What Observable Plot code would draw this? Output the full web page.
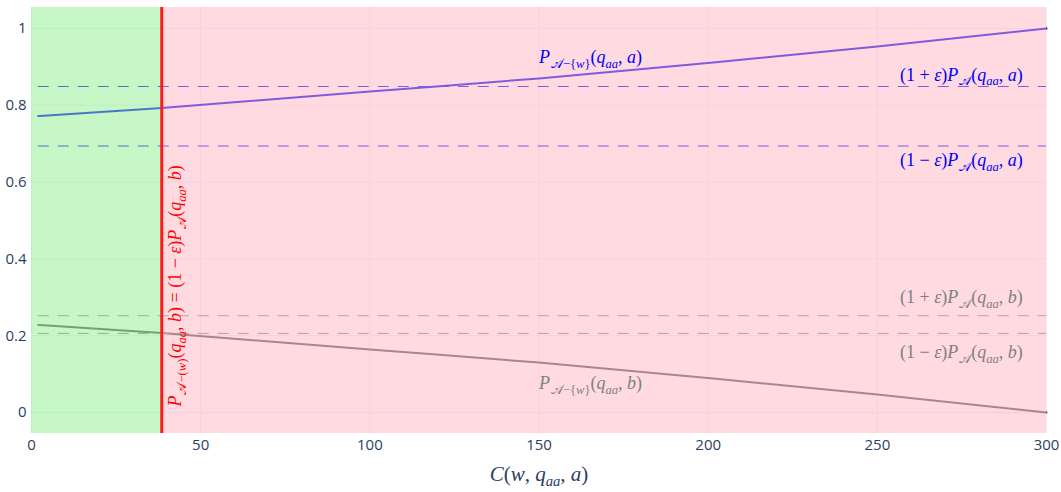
<!DOCTYPE html>
<html><head><meta charset="utf-8">
<script src="https://cdn.jsdelivr.net/npm/d3@7"></script>
<script src="https://cdn.jsdelivr.net/npm/@observablehq/plot@0.6"></script>
<style>body{margin:0;background:#fff;}</style>
</head><body><div id="chart"></div>
<script>
// ---- data ----
const cost  = [2, 38.5, 100, 150, 200, 250, 300];
const probA = [0.772, 0.793, 0.836, 0.870, 0.910, 0.953, 1.0];
const probB = [0.228, 0.207, 0.164, 0.130, 0.090, 0.047, 0.0];
const boundsA = [0.849, 0.694];
const boundsB = [0.252, 0.206];
const cutoff = 38.5;
const xTicks = [0, 50, 100, 150, 200, 250, 300];
const yTicks = [0, 0.2, 0.4, 0.6, 0.8, 1];
const regionStart = [0, cutoff];
const regionEnd = [cutoff, 300];
const regionColors = ["lightgreen", "lightpink"];
const labelText = [
  "P_{𝒜−{w}}(q_{aa}, a)",
  "(1 + ε)P_{𝒜}(q_{aa}, a)",
  "(1 − ε)P_{𝒜}(q_{aa}, a)",
  "(1 + ε)P_{𝒜}(q_{aa}, b)",
  "(1 − ε)P_{𝒜}(q_{aa}, b)",
  "P_{𝒜−{w}}(q_{aa}, b)",
  "P_{𝒜−(w)}(q_{aa}, b) = (1 − ε)P_{𝒜}(q_{aa}, b)"
];
const labelX = [150, 293, 293, 293, 293, 150, 42.5];
const labelY = [0.924, 0.879, 0.656, 0.300, 0.156, 0.076, 0.33];
const axisTitle = "C(w, q_{aa}, a)";

// ---- tables ----
const curve = cost.map((c, i) => ({c, a: probA[i], b: probB[i]}));
const regions = regionStart.map((s, i) => ({s, e: regionEnd[i], fill: regionColors[i]}));
const labels = labelText.map((t, i) => ({t, x: labelX[i], y: labelY[i]}));

const serif = "Liberation Serif, DejaVu Serif, serif";
const lab = (i, opts) => Plot.text([labels[i]], {x: "x", y: "y", text: "t", fontFamily: serif, fontSize: 18, ...opts});

const plot = Plot.plot({
  width: 1061, height: 492,
  marginLeft: 31, marginRight: 15, marginTop: 7, marginBottom: 59,
  style: {fontFamily: "Open Sans, sans-serif", fontSize: "15px", color: "#2a3f5f", background: "#fff"},
  x: {domain: [0, 300], ticks: xTicks, tickSize: 0, tickPadding: 6, label: null},
  y: {domain: [-0.0547, 1.0547], ticks: yTicks, tickSize: 0, tickPadding: 5, label: null,
      tickFormat: d => (d === 0 || d === 1) ? String(d) : d.toFixed(1)},
  marks: [
    Plot.ruleX(xTicks, {stroke: "#EBF0F8", strokeWidth: 1}),
    Plot.ruleY(yTicks.filter(d => d !== 0), {stroke: "#EBF0F8", strokeWidth: 1}),
    Plot.ruleY([0], {stroke: "#EBF0F8", strokeWidth: 2}),
    Plot.line(curve, {x: "c", y: "a", stroke: "blue", strokeWidth: 2, curve: "monotone-x"}),
    Plot.line(curve, {x: "c", y: "b", stroke: "#555", strokeWidth: 2, curve: "monotone-x"}),
    Plot.ruleY(boundsA, {x1: () => cost[0], x2: () => cost[cost.length - 1], stroke: "blue", strokeWidth: 1, strokeDasharray: "11,9"}),
    Plot.ruleY(boundsB, {x1: () => cost[0], x2: () => cost[cost.length - 1], stroke: "gray", strokeWidth: 1, strokeDasharray: "11,9"}),
    Plot.rect(regions, {x1: "s", x2: "e", fill: "fill", fillOpacity: 0.5}),
    Plot.ruleX([cutoff], {stroke: "#ff1a1a", strokeWidth: 3}),
    lab(0, {fill: "blue", textAnchor: "start"}),
    lab(1, {fill: "blue", textAnchor: "end"}),
    lab(2, {fill: "blue", textAnchor: "end"}),
    lab(3, {fill: "gray", textAnchor: "end"}),
    lab(4, {fill: "gray", textAnchor: "end"}),
    lab(5, {fill: "gray", textAnchor: "start"}),
    lab(6, {fill: "red", textAnchor: "middle", rotate: -90}),
    Plot.text([axisTitle], {frameAnchor: "bottom", dy: 47, fontFamily: serif, fontSize: 21, fill: "#2a3f5f"})
  ]
});

function richify(el, base) {
  const str = el.textContent;
  const shift = base * 0.25;
  const segs = [];
  let buf = "", i = 0;
  const chars = Array.from(str);
  while (i < chars.length) {
    if (chars[i] === "_" && chars[i + 1] === "{") {
      if (buf) { segs.push({t: buf, sub: false}); buf = ""; }
      let depth = 1, j = i + 2, s = "";
      while (j < chars.length) {
        if (chars[j] === "{") depth++;
        else if (chars[j] === "}") { depth--; if (depth === 0) break; }
        s += chars[j]; j++;
      }
      segs.push({t: s, sub: true});
      i = j + 1;
    } else { buf += chars[i]; i++; }
  }
  if (buf) segs.push({t: buf, sub: false});
  const sel = d3.select(el);
  sel.text(null);
  let shifted = false;
  for (const seg of segs) {
    const runs = [];
    for (const ch of Array.from(seg.t)) {
      const it = /[A-Za-zε]/u.test(ch);
      if (runs.length && runs[runs.length - 1].it === it) runs[runs.length - 1].t += ch;
      else runs.push({t: ch, it});
    }
    runs.forEach((r, k) => {
      const ts = sel.append("tspan").text(r.t).attr("font-style", r.it ? "italic" : "normal");
      if (seg.sub) ts.attr("font-size", (base * 0.7) + "px");
      if (r.t.includes("𝒜")) ts.attr("dx", base * 0.05);
      if (k === 0) {
        if (seg.sub && !shifted) { ts.attr("dy", shift); shifted = true; }
        else if (!seg.sub && shifted) { ts.attr("dy", -shift); shifted = false; }
      }
    });
  }
}
document.getElementById("chart").appendChild(plot);
d3.select(plot).selectAll("text").each(function () {
  const t = this.textContent;
  if (t.includes("_{") || t.includes("ε") || t.startsWith("C(")) {
    const base = parseFloat(getComputedStyle(this).fontSize) || 16;
    richify(this, base);
  }
});
</script>
</body></html>
